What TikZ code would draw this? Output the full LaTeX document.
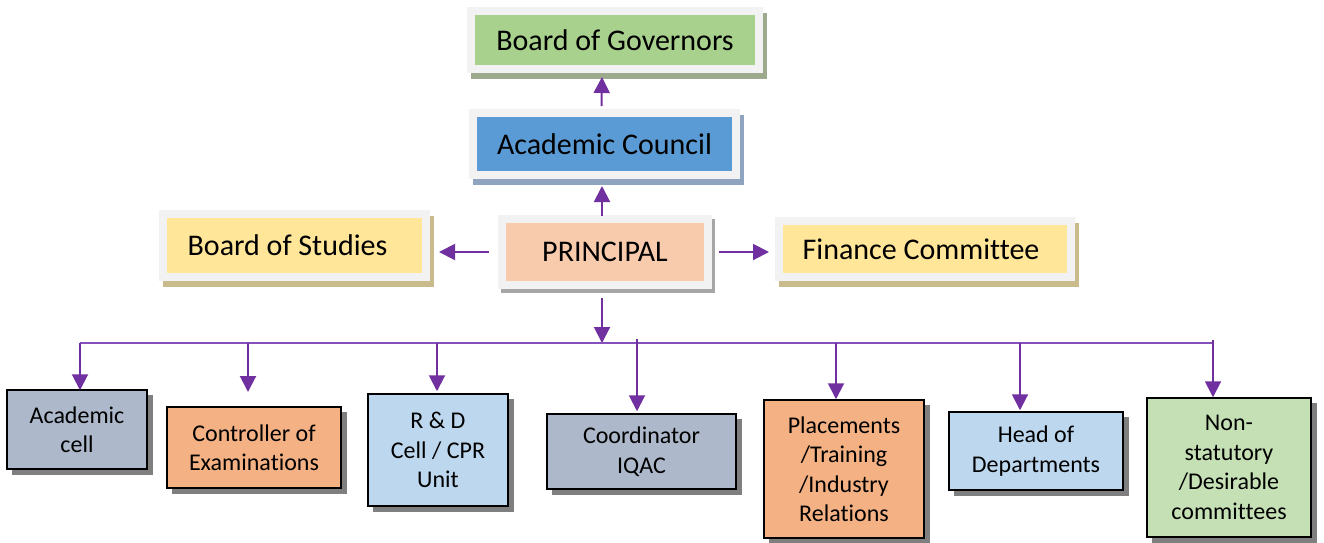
\documentclass[tikz,border=0pt]{standalone}
\usepackage{fontspec}
\setmainfont{Carlito}[RawFeature=-liga]
\usetikzlibrary{arrows.meta}
\definecolor{framegray}{HTML}{F2F2F2}
\definecolor{bogfill}{HTML}{A9D18E}
\definecolor{bogsh}{HTML}{9DAA8E}
\definecolor{acfill}{HTML}{5B9BD5}
\definecolor{acsh}{HTML}{8FA5BF}
\definecolor{yelfill}{HTML}{FFE699}
\definecolor{yelsh}{HTML}{C9BB8C}
\definecolor{prfill}{HTML}{F8CBAD}
\definecolor{prsh}{HTML}{A6A6A6}
\definecolor{slate}{HTML}{ADB9CA}
\definecolor{orng}{HTML}{F4B183}
\definecolor{lblue}{HTML}{BDD7EE}
\definecolor{lgreen}{HTML}{C5E0B4}
\definecolor{botsh}{HTML}{7F7F7F}
\definecolor{purp}{HTML}{7030A0}
\definecolor{buspurp}{HTML}{8550BC}
\begin{document}
\begin{tikzpicture}[x=1pt,y=-1pt,
  topbox/.style={draw=framegray, fill=#1, line width=8pt, inner sep=0pt, align=center,
    font=\fontsize{30}{36}\selectfont},
  tshadow/.style={preaction={draw=#1, fill=#1, transform canvas={xshift=3.5pt,yshift=-6pt}}},
  botbox/.style={draw=black, fill=#1, line width=1.5pt, inner sep=2pt, align=center,
    font=\fontsize{24}{29.5}\selectfont,
    preaction={draw=botsh, fill=botsh, transform canvas={xshift=5.5pt,yshift=-5.5pt}}},
  arr/.style={draw=purp, line width=2pt, -{Triangle[width=16pt,length=16pt]}},
  busline/.style={draw=buspurp, line width=1.6pt}]
\useasboundingbox (0,0) rectangle (1324,542);

% top nodes
\node[topbox=bogfill, tshadow=bogsh, minimum width=288pt, minimum height=58pt] (bog) at (615,40) {Board of Governors};
\node[topbox=acfill, tshadow=acsh, minimum width=263pt, minimum height=62pt] (ac) at (604.5,144) {Academic Council};
\node[topbox=yelfill, tshadow=yelsh, minimum width=263pt, minimum height=63pt] (bos) at (294.5,245.5) {Board of Studies\hspace{14pt}};
\node[topbox=prfill, preaction={draw=prsh, fill=prsh, transform canvas={xshift=3pt,yshift=-4pt}}, minimum width=206pt, minimum height=66pt] (pr) at (605,252) {PRINCIPAL};
\node[topbox=yelfill, tshadow=yelsh, minimum width=292pt, minimum height=56pt] (fin) at (925,249) {Finance Committee\hspace{8pt}};

% bottom nodes
\node[botbox=slate, minimum width=140pt, minimum height=79pt] (acell) at (77,429.5) {Academic\\cell};
\node[botbox=orng, minimum width=174pt, minimum height=81pt] (ctrl) at (254,447.5) {Controller of\\Examinations};
\node[botbox=lblue, minimum width=140pt, minimum height=112pt] (rd) at (438,450) {R \& D\\Cell / CPR\\Unit};
\node[botbox=slate, minimum width=189pt, minimum height=75pt] (coord) at (641.5,451.5) {Coordinator\\IQAC};
\node[botbox=orng, minimum width=160pt, minimum height=138pt] (place) at (844,469) {Placements\\/Training\\/Industry\\Relations};
\node[botbox=lblue, minimum width=174pt, minimum height=78pt] (hod) at (1036,451) {Head of\\Departments};
\node[botbox=lgreen, minimum width=164pt, minimum height=139pt] (nons) at (1229,467.5) {Non-\\statutory\\/Desirable\\committees};

% upper connectors
\draw[arr] ([xshift=-3pt,yshift=3pt]ac.north) -- ([xshift=-13pt,yshift=-4pt]bog.south);
\draw[arr] ([xshift=-3pt,yshift=-1pt]pr.north) -- ([xshift=-2.5pt,yshift=-7pt]ac.south);
\draw[arr] ([xshift=-9pt]pr.west) -- ([xshift=9pt]bos.east |- pr.west);
\draw[arr] ([xshift=7pt]pr.east) -- ([xshift=-6pt]fin.west |- pr.east);

% bus
\coordinate (busL) at (80,343);
\coordinate (busR) at (1213,343);
\coordinate (busP) at (602,343);
\draw[arr] ([xshift=-3pt,yshift=-9pt]pr.south) -- (busP);
\draw[busline] (busL) -- (busR);

% drops
\coordinate (d2) at (248,343);
\coordinate (t2) at (248,392);
\coordinate (d3) at (437,343);
\coordinate (d4) at (637,339);
\coordinate (d5) at (836,343);
\coordinate (d6) at (1020,343);
\coordinate (d7) at (1213,340);
\draw[arr] (busL) -- ([yshift=-1pt]busL |- acell.north);
\draw[arr] (d2) -- (t2);
\draw[arr] (d3) -- ([yshift=2pt]d3 |- rd.north);
\draw[arr] (d4) -- ([yshift=2pt]d4 |- coord.north);
\draw[arr] (d5) -- (d5 |- place.north);
\draw[arr] (d6) -- ([yshift=1pt]d6 |- hod.north);
\draw[arr] (d7) -- (d7 |- nons.north);
\end{tikzpicture}
\end{document}
